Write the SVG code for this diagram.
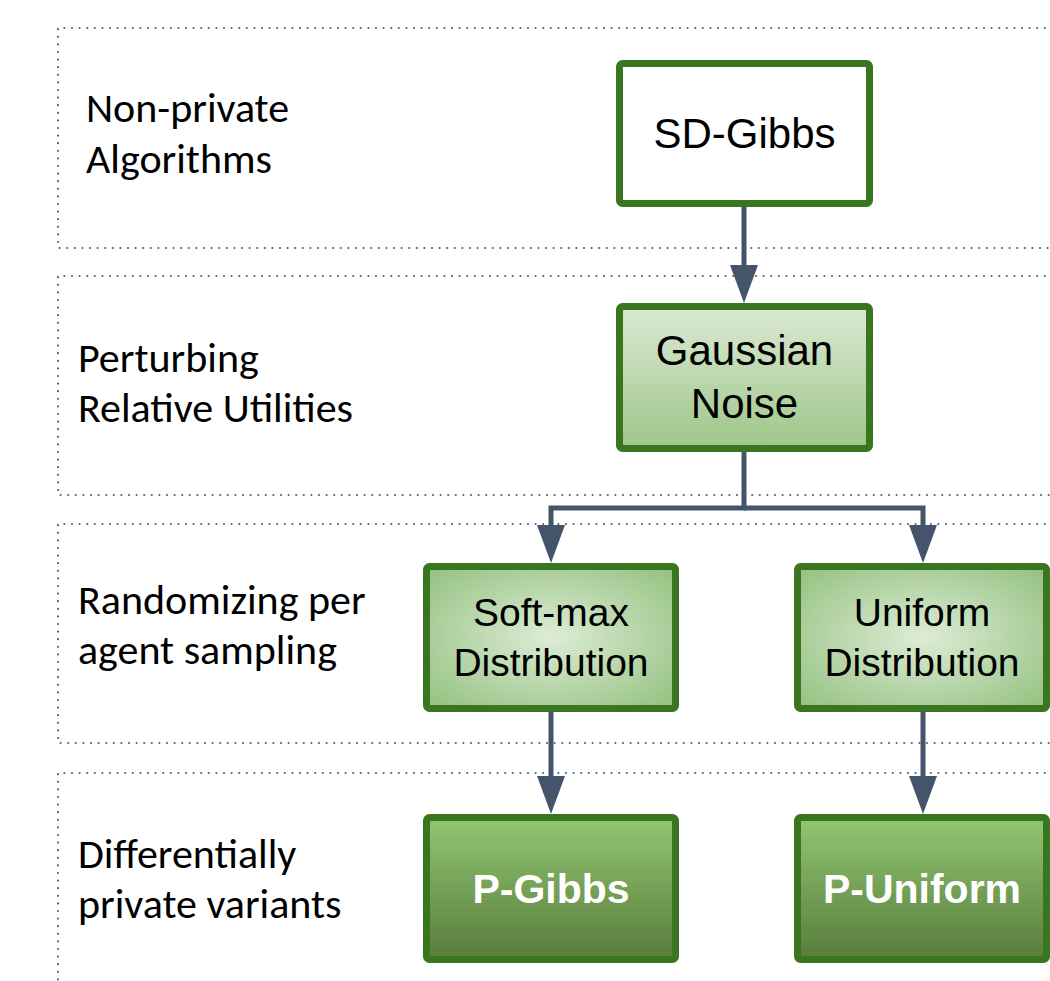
<svg xmlns="http://www.w3.org/2000/svg" width="1050" height="981" viewBox="0 0 1050 981">
  <style>
    .band { fill: none; stroke: #53637c; stroke-width: 2.2; stroke-linecap: round; stroke-dasharray: 0 7.6; }
    .label { font-family: Carlito, Lato, "Open Sans", sans-serif; font-size: 42px; fill: #000; }
    .box { stroke: #3a761f; stroke-width: 7; }
    .t { font-family: "Liberation Sans", Arial, sans-serif; fill: #000; text-anchor: middle; }
    .tw { font-family: "Liberation Sans", Arial, sans-serif; fill: #fff; font-weight: bold; text-anchor: middle; font-size: 41px; }
    .edge { fill: none; stroke: #44546a; stroke-width: 5; }
  </style>
  <defs>
    <linearGradient id="gVert" x1="0" y1="0" x2="0" y2="1">
      <stop offset="0" stop-color="#dbe9d3"/>
      <stop offset="1" stop-color="#9ec689"/>
    </linearGradient>
    <radialGradient id="gRad" cx="0.5" cy="0.5" r="0.7">
      <stop offset="0" stop-color="#ddecd5"/>
      <stop offset="1" stop-color="#93c07f"/>
    </radialGradient>
    <linearGradient id="gDark" x1="0" y1="0" x2="0" y2="1">
      <stop offset="0" stop-color="#92c571"/>
      <stop offset="1" stop-color="#587d3c"/>
    </linearGradient>
    <marker id="arrow" markerUnits="userSpaceOnUse" viewBox="0 -14 38 28" markerWidth="38" markerHeight="28" refX="28" refY="0" orient="auto">
      <path d="M0,-14 L38,0 L0,14 Z" fill="#44546a"/>
    </marker>
  </defs>

  <!-- tier bands -->
  <g id="bands">
    <path class="band" d="M1060,28 H58 V248 H1060"/>
    <path class="band" d="M1060,276 H58 V495 H1060"/>
    <path class="band" d="M1060,524 H58 V743 H1060"/>
    <path class="band" d="M1060,773 H58 V985"/>
  </g>

  <!-- tier labels -->
  <g id="labels">
    <text class="label" x="86" y="122">Non-private</text>
    <text class="label" x="86" y="173">Algorithms</text>
    <text class="label" x="78" y="372">Perturbing</text>
    <text class="label" x="78" y="422">Relative Utilities</text>
    <text class="label" x="78" y="614">Randomizing per</text>
    <text class="label" x="78" y="664">agent sampling</text>
    <text class="label" x="78" y="868">Differentially</text>
    <text class="label" x="78" y="918">private variants</text>
  </g>

  <!-- connectors -->
  <g id="connectors">
    <path class="edge" d="M744,207 V293" marker-end="url(#arrow)"/>
    <path class="edge" d="M744,452 V508 H551 V553" marker-end="url(#arrow)"/>
    <path class="edge" d="M744,508 H923 V553" marker-end="url(#arrow)"/>
    <path class="edge" d="M551,712 V804" marker-end="url(#arrow)"/>
    <path class="edge" d="M923,712 V804" marker-end="url(#arrow)"/>
  </g>

  <g id="sd-gibbs">
    <rect class="box" x="619.5" y="63.5" width="250" height="140" rx="3" fill="#fff"/>
    <text class="t" x="744.5" y="148" font-size="42">SD-Gibbs</text>
  </g>

  <g id="gaussian-noise">
    <rect class="box" x="619.5" y="306.5" width="250" height="142" rx="3" fill="url(#gVert)"/>
    <text class="t" x="744.5" y="365" font-size="42">Gaussian</text>
    <text class="t" x="744.5" y="418" font-size="42">Noise</text>
  </g>

  <g id="soft-max">
    <rect class="box" x="426.5" y="566.5" width="249" height="142" rx="3" fill="url(#gRad)"/>
    <text class="t" x="551" y="626" font-size="39">Soft-max</text>
    <text class="t" x="551" y="676" font-size="39">Distribution</text>
  </g>

  <g id="uniform">
    <rect class="box" x="797.5" y="566.5" width="249" height="142" rx="3" fill="url(#gRad)"/>
    <text class="t" x="922" y="626" font-size="39">Uniform</text>
    <text class="t" x="922" y="676" font-size="39">Distribution</text>
  </g>

  <g id="p-gibbs">
    <rect class="box" x="426.5" y="817.5" width="249" height="142" rx="3" fill="url(#gDark)"/>
    <text class="tw" x="551" y="903">P-Gibbs</text>
  </g>

  <g id="p-uniform">
    <rect class="box" x="797.5" y="817.5" width="249" height="142" rx="3" fill="url(#gDark)"/>
    <text class="tw" x="922" y="903">P-Uniform</text>
  </g>
</svg>
